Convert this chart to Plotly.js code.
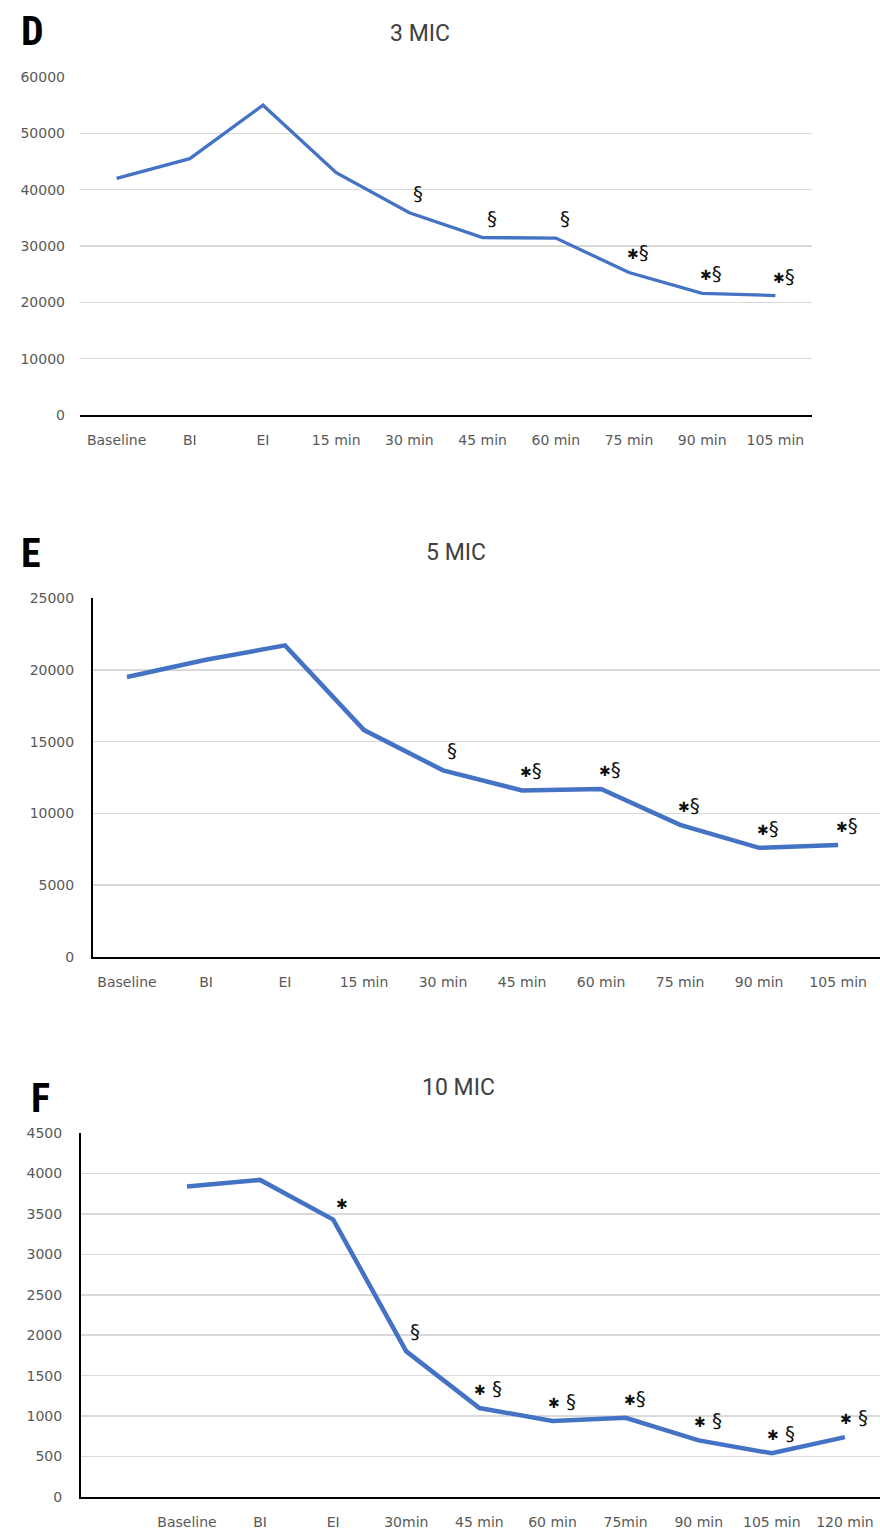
<!DOCTYPE html>
<html>
<head>
<meta charset="utf-8">
<script src="https://cdn.plot.ly/plotly-3.0.1.min.js"></script>
<style>
  html, body { margin: 0; padding: 0; background: #fff; }
  #chart { width: 880px; height: 1535px; }
</style>
</head>
<body>
<div id="chart"></div>
<script>
// Time points for each concentration
const catsD = ['Baseline', 'BI', 'EI', '15 min', '30 min', '45 min', '60 min', '75 min', '90 min', '105 min'];
const catsE = ['Baseline', 'BI', 'EI', '15 min', '30 min', '45 min', '60 min', '75 min', '90 min', '105 min'];
const catsF = ['Baseline', 'BI', 'EI', '30min', '45 min', '60 min', '75min', '90 min', '105 min', '120 min'];

// Measured values per time point
const valsD = [42000, 45500, 55000, 43000, 35900, 31500, 31400, 25300, 21600, 21200];
const valsE = [19500, 20700, 21700, 15800, 13000, 11600, 11700, 9200, 7600, 7800];
const valsF = [3840, 3920, 3430, 1800, 1100, 940, 980, 700, 540, 740];

// Significance marks (* and §) per time point
const marksD = ['', '', '', '', '§', '§', '§', '*§', '*§', '*§'];
const marksE = ['', '', '', '', '§', '*§', '*§', '*§', '*§', '*§'];
const marksF = ['', '', '*', '§', '* §', '* §', '*§', '* §', '* §', '* §'];

// Panel titles and letters
const titles = ['3 MIC', '5 MIC', '10 MIC'];
const letters = ['D', 'E', 'F'];

// Y tick values per panel
const ticksD = [0, 10000, 20000, 30000, 40000, 50000, 60000];
const ticksE = [0, 5000, 10000, 15000, 20000, 25000];
const ticksF = [0, 500, 1000, 1500, 2000, 2500, 3000, 3500, 4000, 4500];

const W = 880, H = 1535;
const px = v => v / W;
const py = v => 1 - v / H;

const BLUE = '#4472C4';
const TICK = '#595959';
const GRID = '#d9d9d9';
const FONT = '"DejaVu Sans", Roboto, sans-serif';
const TITLE_FONT = 'Roboto, "Open Sans", sans-serif';

const idx = n => Array.from({length: n}, (_, i) => i);

const panels = [
  {cats: catsD, vals: valsD, marks: marksD, ticks: ticksD, lw: 3.3,
   x0: 80, x1: 812, yTop: 77, yBot: 415, xr: [-0.5, 9.5], yAxisLine: false,
   title: [420, 33], letter: [32, 32]},
  {cats: catsE, vals: valsE, marks: marksE, ticks: ticksE, lw: 4.5,
   x0: 93, x1: 880, yTop: 598, yBot: 957, xr: [-0.43, 9.53], yAxisLine: true,
   title: [456, 552], letter: [31, 553]},
  {cats: catsF, vals: valsF, marks: marksF, ticks: ticksF, lw: 4.5,
   x0: 81, x1: 880, yTop: 1133, yBot: 1497, xr: [-1.45, 9.48], yAxisLine: true,
   title: [458, 1087], letter: [40, 1098]}
];

const data = [];
const annotations = [];
const layout = {
  width: W, height: H,
  margin: {l: 0, r: 0, t: 0, b: 0},
  paper_bgcolor: '#fff', plot_bgcolor: 'rgba(0,0,0,0)',
  showlegend: false,
  font: {family: FONT, color: TICK},
  annotations: annotations
};

panels.forEach((p, k) => {
  const n = k === 0 ? '' : String(k + 1);
  const xa = 'x' + n, ya = 'y' + n;

  data.push({
    type: 'scatter', mode: 'lines',
    x: idx(p.vals.length), y: p.vals,
    xaxis: xa, yaxis: ya,
    line: {color: BLUE, width: p.lw},
    hoverinfo: 'skip'
  });

  layout['xaxis' + n] = {
    domain: [px(p.x0), px(p.x1)], anchor: ya,
    range: p.xr, tickmode: 'array',
    tickvals: idx(p.cats.length), ticktext: p.cats,
    showgrid: false, zeroline: false,
    showline: true, linecolor: '#000', linewidth: 2,
    ticks: '', ticklabelstandoff: 11,
    tickfont: {family: FONT, size: 14, color: TICK},
    fixedrange: true
  };
  layout['yaxis' + n] = {
    domain: [py(p.yBot), py(p.yTop)], anchor: xa,
    range: [0, p.ticks[p.ticks.length - 1]],
    tickmode: 'array', tickvals: p.ticks, tickformat: 'd',
    showgrid: true, gridcolor: GRID, gridwidth: 1.5,
    zeroline: false,
    showline: p.yAxisLine, linecolor: '#000', linewidth: 2,
    ticks: '', ticklabelstandoff: 14,
    tickfont: {family: FONT, size: 14, color: TICK},
    fixedrange: true
  };

  // Significance marks above each point
  p.marks.forEach((m, i) => {
    if (!m) return;
    const txt = m.replace(/\*/g, '<span style="font-size:14px">✱</span>');
    annotations.push({
      xref: xa, yref: ya, x: i, y: p.vals[i],
      text: txt, showarrow: false,
      xanchor: 'center', yanchor: 'bottom',
      xshift: 9, yshift: 6,
      font: {family: FONT, size: 20, color: '#111'}
    });
  });

  // Panel title
  annotations.push({
    xref: 'paper', yref: 'paper', x: px(p.title[0]), y: py(p.title[1]),
    text: titles[k], showarrow: false, xanchor: 'center', yanchor: 'middle',
    font: {family: TITLE_FONT, size: 23, color: '#404040'}
  });
  // Panel letter
  annotations.push({
    xref: 'paper', yref: 'paper', x: px(p.letter[0]), y: py(p.letter[1]),
    text: '<b>' + letters[k] + '</b>', showarrow: false, xanchor: 'center', yanchor: 'middle',
    font: {family: '"Liberation Sans Narrow", "Roboto Condensed", Roboto, sans-serif', size: 40, color: '#000'}
  });
});

Plotly.newPlot('chart', data, layout, {staticPlot: true, displayModeBar: false});
</script>
</body>
</html>
